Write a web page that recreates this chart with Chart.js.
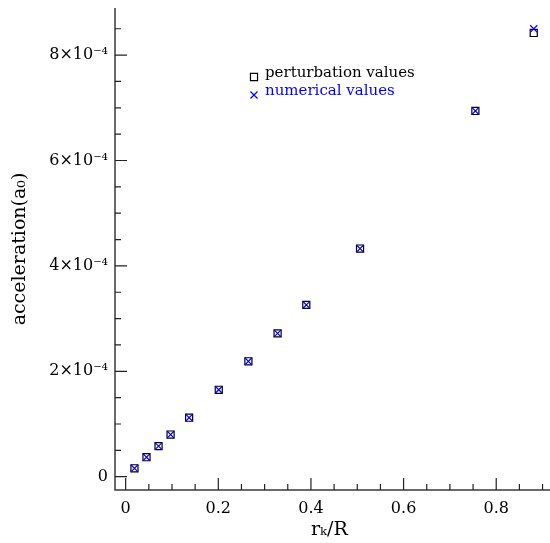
<!DOCTYPE html>
<html lang="en">
<head>
    <meta charset="UTF-8">
    <title>acceleration vs r_k/R</title>
    <script src="https://cdn.jsdelivr.net/npm/chart.js"></script>
    <style>
        html, body { margin: 0; padding: 0; background: #ffffff; }
        #wrap { width: 550px; height: 543px; }
    </style>
</head>
<body>
    <div id="wrap"><canvas id="accChart" width="550" height="543"></canvas></div>

    <script>
        // r_k / R positions
        const rk = [0.019, 0.045, 0.071, 0.097, 0.137, 0.201, 0.265, 0.328, 0.390, 0.506, 0.755, 0.881];
        // acceleration in units of a0
        const perturbation = [0.16e-4, 0.37e-4, 0.58e-4, 0.80e-4, 1.12e-4, 1.65e-4, 2.19e-4, 2.72e-4, 3.26e-4, 4.33e-4, 6.94e-4, 8.42e-4];
        const numerical    = [0.16e-4, 0.37e-4, 0.58e-4, 0.80e-4, 1.12e-4, 1.65e-4, 2.19e-4, 2.72e-4, 3.26e-4, 4.33e-4, 6.94e-4, 8.50e-4];

        const xLabels = ['0', '0.2', '0.4', '0.6', '0.8'];
        const yLabels = ['0', '2×10⁻⁴', '4×10⁻⁴', '6×10⁻⁴', '8×10⁻⁴'];

        const serif = 'DejaVu Serif';
        const axisColor = '#3a3a3a';

        const isMultiple = (v, step) => Math.abs(v / step - Math.round(v / step)) < 1e-6;

        // no extra room for edge tick labels
        const noPad = s => { s.paddingLeft = 0; s.paddingRight = 0; s.paddingTop = 0; s.paddingBottom = 0; };

        // inward ticks + axis lines
        const axisPlugin = {
            id: 'axisPlugin',
            afterDatasetsDraw(chart) {
                const ctx = chart.ctx;
                const area = chart.chartArea;
                const xs = chart.scales.x, ys = chart.scales.y;
                ctx.save();
                ctx.strokeStyle = axisColor;
                ctx.lineWidth = 1.5;
                ctx.beginPath();
                ctx.moveTo(area.left, area.top);
                ctx.lineTo(area.left, area.bottom);
                ctx.lineTo(chart.width, area.bottom);
                ctx.stroke();

                ctx.lineWidth = 1.2;
                ctx.strokeStyle = '#222';
                ctx.beginPath();
                xs.ticks.forEach(t => {
                    const px = xs.getPixelForValue(t.value);
                    const len = isMultiple(t.value, 0.2) ? 12 : 6;
                    ctx.moveTo(px, area.bottom);
                    ctx.lineTo(px, area.bottom - len);
                });
                ys.ticks.forEach(t => {
                    const py = ys.getPixelForValue(t.value);
                    const len = isMultiple(t.value, 2e-4) ? 12 : 6;
                    ctx.moveTo(area.left, py);
                    ctx.lineTo(area.left + len, py);
                });
                ctx.stroke();
                ctx.restore();
            }
        };

        // legend text next to markers
        const legendPlugin = {
            id: 'legendPlugin',
            afterDraw(chart) {
                const ctx = chart.ctx;
                const items = [
                    { text: 'perturbation values', color: '#000000', style: 'rect', y: 77 },
                    { text: 'numerical values', color: '#0000ff', style: 'crossRot', y: 95 }
                ];
                ctx.save();
                ctx.font = '15px "' + serif + '"';
                ctx.textBaseline = 'middle';
                items.forEach(it => {
                    ctx.strokeStyle = it.color;
                    ctx.fillStyle = 'rgba(0,0,0,0)';
                    ctx.lineWidth = 1.2;
                    Chart.helpers.drawPoint(ctx, { pointStyle: it.style, radius: 5, rotation: 0, borderWidth: 1.2 }, 254, it.y);
                    ctx.fillStyle = it.color;
                    ctx.fillText(it.text, 265, it.y - 4);
                });
                ctx.restore();
            }
        };

        const points = (ys) => rk.map((x, i) => ({ x: x, y: ys[i] }));

        new Chart(document.getElementById('accChart'), {
            type: 'scatter',
            data: {
                datasets: [{
                    label: 'perturbation values',
                    data: points(perturbation),
                    pointStyle: 'rect',
                    pointRadius: 5,
                    borderColor: '#000000',
                    backgroundColor: 'rgba(0,0,0,0)',
                    borderWidth: 1.2,
                    order: 2
                }, {
                    label: 'numerical values',
                    data: points(numerical),
                    pointStyle: 'crossRot',
                    pointRadius: 5,
                    borderColor: '#0000ff',
                    backgroundColor: '#0000ff',
                    borderWidth: 1.2,
                    order: 1
                }]
            },
            options: {
                responsive: false,
                animation: false,
                layout: { padding: { top: 8, right: 0, left: 0, bottom: 0 } },
                plugins: { legend: { display: false }, tooltip: { enabled: false } },
                scales: {
                    x: {
                        type: 'linear',
                        min: -0.023,
                        max: 0.9027,
                        grid: { display: false, drawTicks: false },
                        border: { display: false },
                        ticks: {
                            stepSize: 0.05,
                            includeBounds: false,
                            autoSkip: false,
                            maxRotation: 0,
                            padding: 9,
                            color: '#000',
                            font: { family: serif, size: 16 },
                            callback: v => isMultiple(v, 0.2) ? xLabels[Math.round(v / 0.2)] : ''
                        },
                        title: {
                            display: true,
                            text: 'rₖ/R',
                            color: '#000',
                            font: { family: serif, size: 19 },
                            padding: { top: 0, bottom: 2 }
                        },
                        afterFit: s => { s.height = 53; noPad(s); }
                    },
                    y: {
                        type: 'linear',
                        min: -0.252e-4,
                        max: 8.894e-4,
                        grid: { display: false, drawTicks: false },
                        border: { display: false },
                        ticks: {
                            stepSize: 0.5e-4,
                            includeBounds: false,
                            autoSkip: false,
                            padding: 7,
                            color: '#000',
                            font: { family: serif, size: 16 },
                            callback: v => isMultiple(v, 2e-4) ? yLabels[Math.round(v / 2e-4)] : ''
                        },
                        title: {
                            display: true,
                            text: 'acceleration(a₀)',
                            color: '#000',
                            font: { family: serif, size: 19 },
                            padding: { top: 9, bottom: 0 }
                        },
                        afterFit: s => { s.width = 115; noPad(s); }
                    }
                }
            },
            plugins: [axisPlugin, legendPlugin]
        });
    </script>
</body>
</html>
